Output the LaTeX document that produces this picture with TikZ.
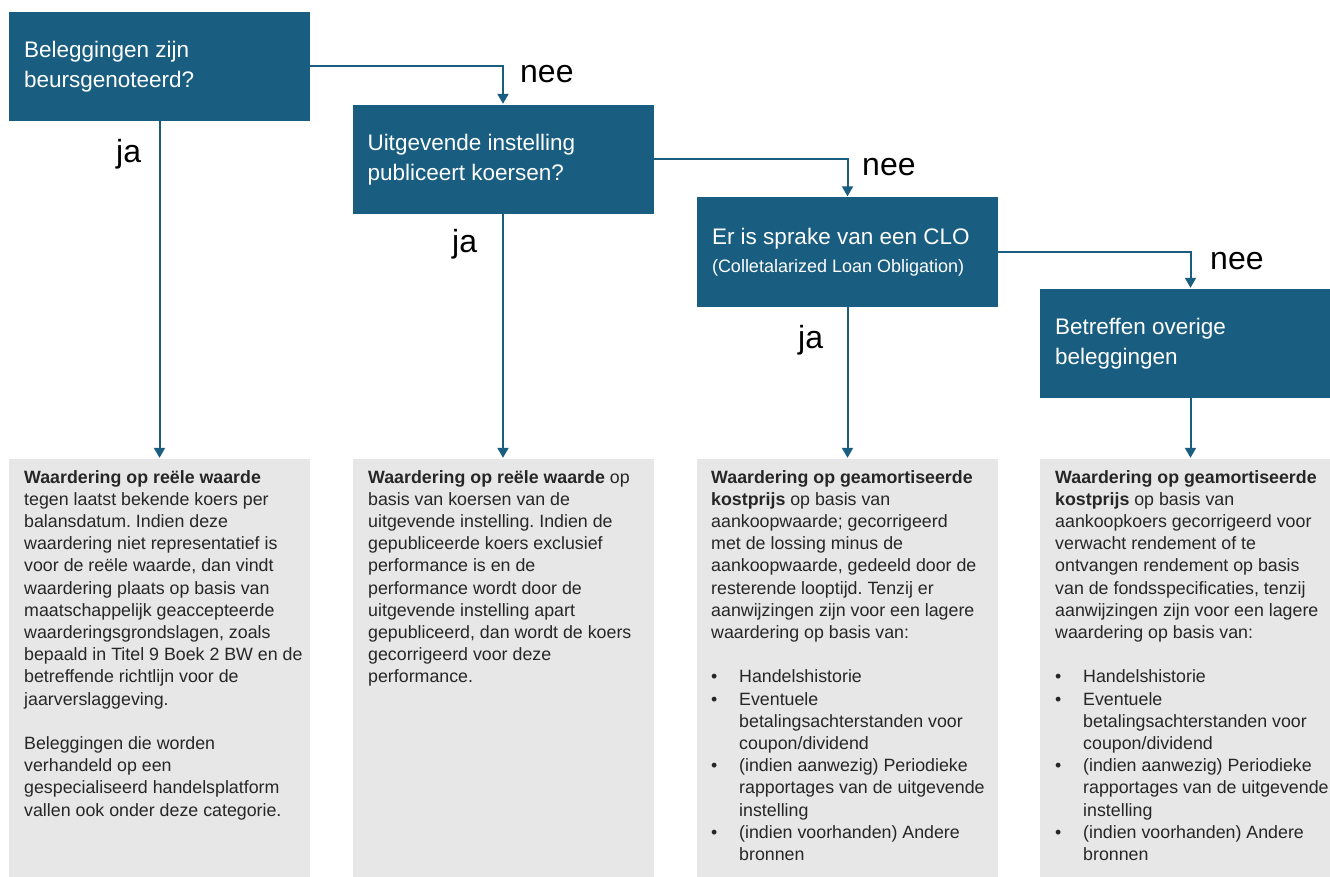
\documentclass[tikz,border=0pt]{standalone}
\usepackage{fontspec}
\setmainfont{Liberation Sans}
\usetikzlibrary{arrows.meta}
\definecolor{bblue}{RGB}{25,94,128}
\definecolor{bgrey}{RGB}{231,231,231}
\frenchspacing
\newcommand{\nsp}{\spaceskip=0pt\xspaceskip=0pt\relax}
\begin{document}
\begin{tikzpicture}[x=1pt,y=-1pt,
  qbox/.style={rectangle, fill=bblue, text=white, minimum width=301pt, minimum height=109pt, text width=271pt, inner xsep=15pt, inner ysep=0pt, align=left, font=\fontsize{22.5}{30}\selectfont},
  gbox/.style={rectangle, fill=bgrey, minimum width=301pt, minimum height=421pt, inner sep=0pt},
  btext/.style={anchor=north west, inner sep=0pt, text width=305pt, align=left, font=\fontsize{17.8}{22.2}\selectfont\frenchspacing, text=black!85},
  lbl/.style={inner sep=0pt, anchor=base west, font=\fontsize{32}{36}\selectfont},
  conn/.style={draw=bblue, line width=2pt, shorten >=1pt, -{Triangle[width=11pt,length=10pt]}}
]
\useasboundingbox (0,0) rectangle (1330,877);
\fill[white] (0,0) rectangle (1330,877);

% grey result boxes
\node[gbox] (g1) at (159.5,669.5) {};
\node[gbox] (g2) at (503,669.5) {};
\node[gbox] (g3) at (847.5,669.5) {};
\node[gbox] (g4) at (1190.5,669.5) {};

% question boxes
\node[qbox] (q1) at (159.5,66.5) {\nsp Beleggingen zijn\\beursgenoteerd?};
\node[qbox] (q2) at (503,159.5) {\nsp Uitgevende instelling\\publiceert koersen?};
\node[qbox] (q3) at (847.5,252) {\nsp Er is sprake van een CLO\\[-2pt]\mbox{\fontsize{18}{22}\selectfont\nsp (Colletalarized Loan Obligation)}};
\node[qbox] (q4) at (1190.5,343.5) {\nsp Betreffen overige\\beleggingen};

% connectors
\draw[conn] (q1.east) -| (q2.north);
\draw[conn] (q2.east) -| (q3.north);
\draw[conn] (q3.east) -| (q4.north);
\draw[conn] (q1.south) -- (g1.north);
\draw[conn] (q2.south) -- (g2.north);
\draw[conn] (q3.south) -- (g3.north);
\draw[conn] (q4.south) -- (g4.north);

% labels
\node[lbl] (n1) at (520,83) {nee};
\node[lbl] (n2) at (862,176) {nee};
\node[lbl] (n3) at (1210,270) {nee};
\node[lbl] (j1) at (116,163) {ja};
\node[lbl] (j2) at (452,253) {ja};
\node[lbl] (j3) at (798,348) {ja};

% texts
\node[btext] (t1) at (24,470) {\nsp\textbf{Waardering op reële waarde}\\
tegen laatst bekende koers per\\
balansdatum. Indien deze\\
waardering niet representatief is\\
voor de reële waarde, dan vindt\\
waardering plaats op basis van\\
maatschappelijk geaccepteerde\\
waarderingsgrondslagen, zoals\\
bepaald in Titel 9 Boek 2 BW en de\\
betreffende richtlijn voor de\\
jaarverslaggeving.\\[22.2pt]
Beleggingen die worden\\
verhandeld op een\\
gespecialiseerd handelsplatform\\
vallen ook onder deze categorie.};

\node[btext] (t2) at (368,470) {\nsp\textbf{Waardering op reële waarde} op\\
basis van koersen van de\\
uitgevende instelling. Indien de\\
gepubliceerde koers exclusief\\
performance is en de\\
performance wordt door de\\
uitgevende instelling apart\\
gepubliceerd, dan wordt de koers\\
gecorrigeerd voor deze\\
performance.};

\node[btext] (t3) at (711,470) {\nsp\textbf{Waardering op geamortiseerde}\\
\textbf{kostprijs} op basis van\\
aankoopwaarde; gecorrigeerd\\
met de lossing minus de\\
aankoopwaarde, gedeeld door de\\
resterende looptijd. Tenzij er\\
aanwijzingen zijn voor een lagere\\
waardering op basis van:\\[22.2pt]
\makebox[28pt][l]{•}Handelshistorie\\
\makebox[28pt][l]{•}Eventuele\\
\hspace*{28pt}betalingsachterstanden voor\\
\hspace*{28pt}coupon/dividend\\
\makebox[28pt][l]{•}(indien aanwezig) Periodieke\\
\hspace*{28pt}rapportages van de uitgevende\\
\hspace*{28pt}instelling\\
\makebox[28pt][l]{•}(indien voorhanden) Andere\\
\hspace*{28pt}bronnen};

\node[btext] (t4) at (1055,470) {\nsp\textbf{Waardering op geamortiseerde}\\
\textbf{kostprijs} op basis van\\
aankoopkoers gecorrigeerd voor\\
verwacht rendement of te\\
ontvangen rendement op basis\\
van de fondsspecificaties, tenzij\\
aanwijzingen zijn voor een lagere\\
waardering op basis van:\\[22.2pt]
\makebox[28pt][l]{•}Handelshistorie\\
\makebox[28pt][l]{•}Eventuele\\
\hspace*{28pt}betalingsachterstanden voor\\
\hspace*{28pt}coupon/dividend\\
\makebox[28pt][l]{•}(indien aanwezig) Periodieke\\
\hspace*{28pt}rapportages van de uitgevende\\
\hspace*{28pt}instelling\\
\makebox[28pt][l]{•}(indien voorhanden) Andere\\
\hspace*{28pt}bronnen};
\end{tikzpicture}
\end{document}
